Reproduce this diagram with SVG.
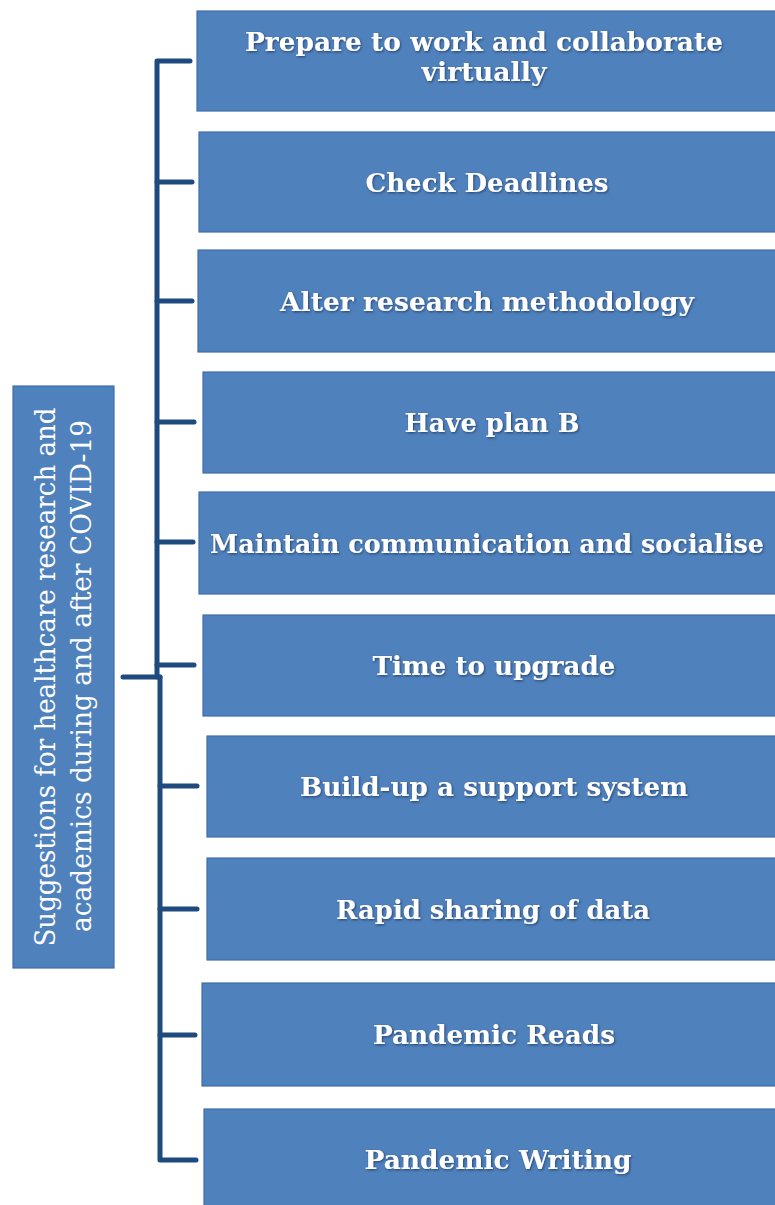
<svg xmlns="http://www.w3.org/2000/svg" width="775" height="1205" viewBox="0 0 775 1205">
  <defs>
    <filter id="sh" x="-5%" y="-20%" width="110%" height="140%">
      <feDropShadow dx="1" dy="1.2" stdDeviation="0.9" flood-color="#1b3358" flood-opacity="0.75"/>
    </filter>
    <style>
      .box { fill: #4F81BD; stroke: #3F6FAA; stroke-width: 1.2; }
      .lbl { font-family: "DejaVu Serif", "Liberation Serif", serif; font-weight: bold; font-size: 26px; fill: #ffffff; text-anchor: middle; filter: url(#sh); }
      .side { font-family: "DejaVu Serif", "Liberation Serif", serif; font-size: 27px; fill: #ffffff; text-anchor: middle; }
      .conn { fill: none; stroke: #1F4A7E; stroke-width: 5; stroke-linecap: round; stroke-linejoin: round; }
    </style>
  </defs>
  <rect width="775" height="1205" fill="#ffffff"/>

  <g id="connectors">
    <path class="conn" d="M190,61 H157 V677"/>
    <path class="conn" d="M160,677 V1160 H196"/>
    <path class="conn" d="M123,677 H160"/>
    <path class="conn" d="M157,182 H192"/>
    <path class="conn" d="M157,301 H192"/>
    <path class="conn" d="M157,422 H194"/>
    <path class="conn" d="M157,542 H193"/>
    <path class="conn" d="M157,665 H194"/>
    <path class="conn" d="M160,786 H197"/>
    <path class="conn" d="M160,909 H197"/>
    <path class="conn" d="M160,1035 H195"/>
  </g>

  <g id="root">
    <rect class="box" x="13" y="386" width="101" height="582"/>
    <text class="side" transform="translate(55,677) rotate(-90)" textLength="539" lengthAdjust="spacingAndGlyphs">Suggestions for healthcare research and</text>
    <text class="side" transform="translate(91,676) rotate(-90)" textLength="512" lengthAdjust="spacingAndGlyphs">academics during and after COVID-19</text>
  </g>

  <g id="n1">
    <rect class="box" x="197" y="11" width="580" height="100"/>
    <text class="lbl" x="484" y="51" textLength="478" lengthAdjust="spacingAndGlyphs">Prepare to work and collaborate</text>
    <text class="lbl" x="484" y="81" textLength="125" lengthAdjust="spacingAndGlyphs">virtually</text>
  </g>
  <g id="n2">
    <rect class="box" x="199" y="132" width="578" height="100"/>
    <text class="lbl" x="487" y="192" textLength="243" lengthAdjust="spacingAndGlyphs">Check Deadlines</text>
  </g>
  <g id="n3">
    <rect class="box" x="198" y="250" width="579" height="102"/>
    <text class="lbl" x="487" y="311" textLength="414" lengthAdjust="spacingAndGlyphs">Alter research methodology</text>
  </g>
  <g id="n4">
    <rect class="box" x="203" y="372" width="574" height="101"/>
    <text class="lbl" x="492" y="432" textLength="175" lengthAdjust="spacingAndGlyphs">Have plan B</text>
  </g>
  <g id="n5">
    <rect class="box" x="199" y="492" width="578" height="102"/>
    <text class="lbl" x="487" y="553" textLength="554" lengthAdjust="spacingAndGlyphs">Maintain communication and socialise</text>
  </g>
  <g id="n6">
    <rect class="box" x="203" y="615" width="574" height="101"/>
    <text class="lbl" x="494" y="675" textLength="243" lengthAdjust="spacingAndGlyphs">Time to upgrade</text>
  </g>
  <g id="n7">
    <rect class="box" x="207" y="736" width="570" height="101"/>
    <text class="lbl" x="494" y="796" textLength="388" lengthAdjust="spacingAndGlyphs">Build-up a support system</text>
  </g>
  <g id="n8">
    <rect class="box" x="207" y="858" width="570" height="102"/>
    <text class="lbl" x="493" y="919" textLength="314" lengthAdjust="spacingAndGlyphs">Rapid sharing of data</text>
  </g>
  <g id="n9">
    <rect class="box" x="202" y="983" width="575" height="103"/>
    <text class="lbl" x="494" y="1044" textLength="242" lengthAdjust="spacingAndGlyphs">Pandemic Reads</text>
  </g>
  <g id="n10">
    <rect class="box" x="204" y="1109" width="573" height="100"/>
    <text class="lbl" x="498" y="1169" textLength="267" lengthAdjust="spacingAndGlyphs">Pandemic Writing</text>
  </g>
</svg>
